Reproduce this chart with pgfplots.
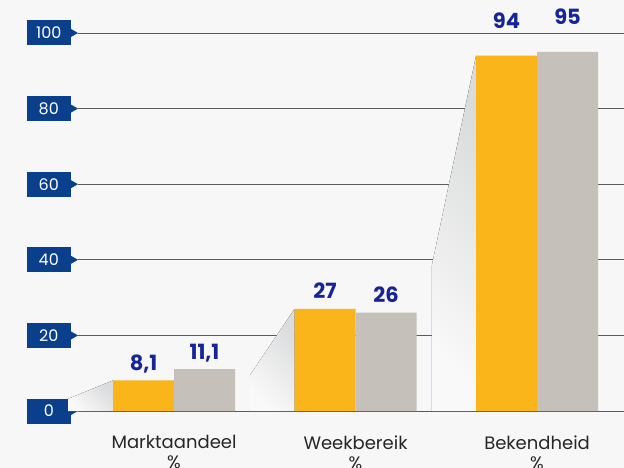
\documentclass[border=0pt]{standalone}
\usepackage{pgfplots}
\pgfplotsset{compat=1.18}
\usepackage{pgfplotstable}
\usepackage{fontspec}
\setmainfont{Poppins}
\definecolor{bg}{HTML}{F7F7F7}
\definecolor{orangebar}{HTML}{F9B51A}
\definecolor{greybar}{HTML}{C5C0BA}
\definecolor{valblue}{HTML}{16249A}
\definecolor{tagblue}{HTML}{0A3F8C}
\definecolor{gridc}{HTML}{5A5A5A}
\definecolor{shad}{HTML}{DADBDC}
\tikzset{shadowfill/.style={top color=shad, bottom color=bg!70!white, shading angle=-45}}

\pgfplotstableread{
x y
0 8.1
1 27
2 94
}\seriesA
\pgfplotstableread{
x y
0 11.1
1 26
2 95
}\seriesB

\begin{document}
\begin{tikzpicture}
\useasboundingbox (-78bp,-57bp) rectangle (546bp,411bp);
\fill[bg] (-78bp,-57bp) rectangle (546bp,411bp);
\begin{axis}[
 at={(0,0)}, anchor=south west,
 scale only axis, width=546bp, height=378bp,
 xmin=-0.529, xmax=2.479, ymin=0, ymax=100,
 clip=false,
 ybar=0pt, bar width=61bp,
 axis line style={draw=none},
 major tick length=0pt,
 ytick={0,20,...,100},
 ymajorgrids, grid style={gridc, line width=0.9bp},
 xtick={0,1,2},
 xticklabels={Marktaandeel\\\%, Weekbereik\\\%, Bekendheid\\\%},
 xticklabel style={align=center, font=\fontsize{18bp}{20bp}\selectfont, text=black!85, yshift=-21bp},
 /pgf/number format/assume math mode=true,
 /pgf/number format/use comma,
 yticklabel style={anchor=east, xshift=-7bp, fill=tagblue, text=white,
   minimum width=44bp, minimum height=25bp, inner sep=0pt,
   font=\fontsize{16bp}{16bp}\selectfont,
   append after command={\pgfextra{\fill[tagblue] ([yshift=4bp]\tikzlastnode.east) -- ++(7bp,-4bp) -- ++(-7bp,-4bp) -- cycle;}}},
 nodes near coords,
 visualization depends on={y \as \rawy},
 nodes near coords style={anchor=base, yshift={(10+17*(\rawy>90))*1.00375}, font=\fontsize{21bp}{21bp}\selectfont\bfseries, text=valblue},
]
\fill[shadowfill] (axis cs:-0.584,0) -- (axis cs:-0.584,3.2) -- (axis cs:-0.336,8.1) -- (axis cs:-0.336,0) -- cycle;
\fill[shadowfill] (axis cs:0.419,0) -- (axis cs:0.419,9.5) -- (axis cs:0.664,27) -- (axis cs:0.664,0) -- cycle;
\fill[shadowfill] (axis cs:1.421,0) -- (axis cs:1.421,38.6) -- (axis cs:1.664,94) -- (axis cs:1.664,0) -- cycle;
\addplot[fill=orangebar, draw=none] table[x=x, y=y] {\seriesA};
\addplot[fill=greybar, draw=none] table[x=x, y=y] {\seriesB};
\end{axis}
\end{tikzpicture}
\end{document}
